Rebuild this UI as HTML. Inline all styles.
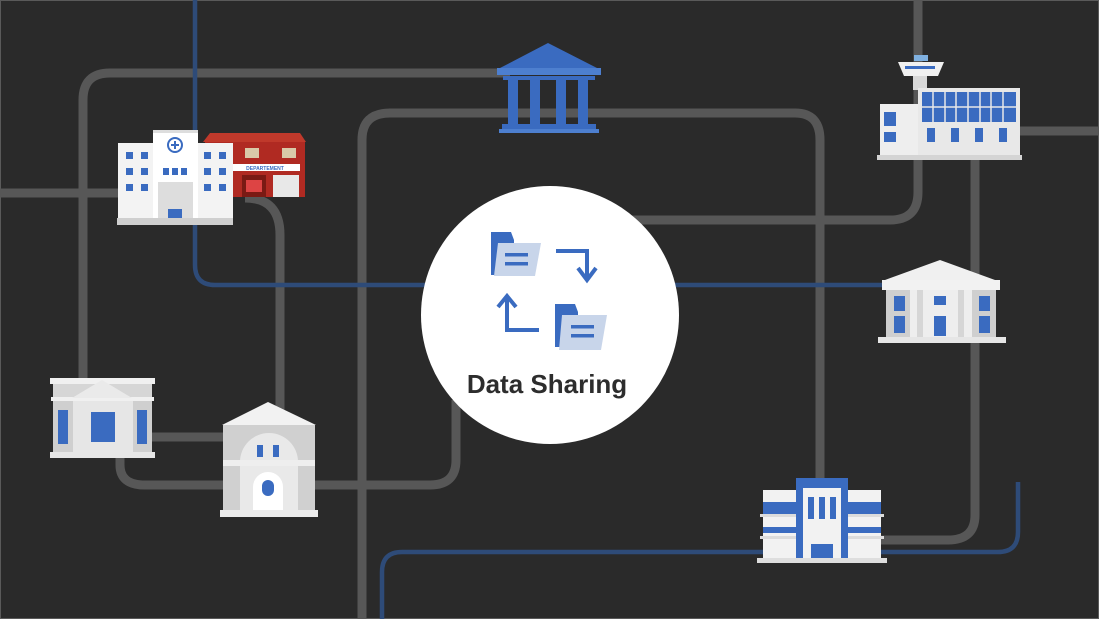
<!DOCTYPE html>
<html><head><meta charset="utf-8"><style>
html,body{margin:0;padding:0;background:#2a2a2a;}
svg{display:block;}
</style></head><body>
<svg width="1099" height="619" viewBox="0 0 1099 619" xmlns="http://www.w3.org/2000/svg">
<rect x="0" y="0" width="1099" height="619" fill="#2a2a2a"/>
<rect x="0.5" y="0.5" width="1098" height="618" fill="none" stroke="#5a5a5a" stroke-width="1"/>
<g fill="none" stroke="#575757" stroke-width="9">
<path d="M83 380 V100 Q83 73 110 73 H510"/>
<path d="M0 193 H125"/>
<path d="M245 198 Q280 198 280 235 V420"/>
<path d="M150 437 H230"/>
<path d="M120 455 V465 Q120 485 145 485 H230"/>
<path d="M310 485 H430 Q456 485 456 460 V400"/>
<path d="M362 619 V140 Q362 113 390 113 H795 Q820 113 820 140 V495"/>
<path d="M630 220 H890 Q918 220 918 192 V0"/>
<path d="M975 158 V515 Q975 540 948 540 H880"/>
<path d="M1015 131 H1099"/>
</g>
<g fill="none" stroke="#2e4b78" stroke-width="4.5">
<path d="M195 0 V265 Q195 285 215 285 H440"/>
<path d="M670 285 H885"/>
<path d="M382 619 V572 Q382 552 402 552 H998 Q1018 552 1018 532 V482"/>
</g>
<!-- center circle -->
<circle cx="550" cy="315" r="129" fill="#ffffff"/>
<!-- folder 1 -->
<path d="M491 232 H511 L514 240 V275 H491 Z" fill="#3a6bc0"/>
<path d="M498 243 H541 L535 276 H494 Z" fill="#c8d5ea"/>
<rect x="505" y="253" width="23" height="3.5" fill="#3a6bc0"/>
<rect x="505" y="262" width="23" height="3.5" fill="#3a6bc0"/>
<!-- folder 2 -->
<path d="M555 304 H575 L578 312 V347 H555 Z" fill="#3a6bc0"/>
<path d="M562 315 H607 L601 350 H559 Z" fill="#c8d5ea"/>
<rect x="571" y="325" width="23" height="3.5" fill="#3a6bc0"/>
<rect x="571" y="334" width="23" height="3.5" fill="#3a6bc0"/>
<!-- arrows -->
<path d="M556 251 H587 V278" fill="none" stroke="#3a6bc0" stroke-width="4"/>
<path d="M578 268 L587 280 L596 268" fill="none" stroke="#3a6bc0" stroke-width="4"/>
<path d="M539 330 H507 V297" fill="none" stroke="#3a6bc0" stroke-width="4"/>
<path d="M498 307 L507 296 L516 307" fill="none" stroke="#3a6bc0" stroke-width="4"/>
<text x="547" y="393" text-anchor="middle" font-family="Liberation Sans, sans-serif" font-weight="bold" font-size="26" fill="#2d2d2d">Data Sharing</text>

<!-- blue temple -->
<g fill="#3a6bc0">
<polygon points="548,43 500,68 597,68"/>
<rect x="497" y="68" width="104" height="7" fill="#4d7fcf"/>
<rect x="503" y="76" width="92" height="4"/>
<rect x="508" y="80" width="10" height="45"/><rect x="530" y="80" width="10" height="45"/>
<rect x="556" y="80" width="10" height="45"/><rect x="578" y="80" width="10" height="45"/>
<rect x="502" y="124" width="94" height="5"/>
<rect x="499" y="129" width="100" height="4" fill="#4d7fcf"/>
</g>

<!-- fire station -->
<g>
<polygon points="210,133 300,133 306,142 203,142" fill="#c0392b"/>
<rect x="205" y="142" width="100" height="55" fill="#b02a22"/>
<rect x="214" y="148" width="14" height="10" fill="#d9c9a8"/><rect x="245" y="148" width="14" height="10" fill="#d9c9a8"/><rect x="282" y="148" width="14" height="10" fill="#d9c9a8"/>
<rect x="230" y="164" width="70" height="7" fill="#fff"/>
<text x="265" y="170" text-anchor="middle" font-family="Liberation Sans, sans-serif" font-size="5" font-weight="bold" fill="#3a6bc0">DEPARTEMENT</text>
<rect x="242" y="175" width="24" height="22" fill="#7a1a14"/>
<rect x="246" y="180" width="16" height="12" fill="#d44"/>
<rect x="273" y="175" width="26" height="22" fill="#e8e8e8"/>
</g>
<!-- hospital -->
<g>
<rect x="118" y="143" width="115" height="78" fill="#f3f3f3"/>
<rect x="153" y="130" width="45" height="91" fill="#fff"/>
<rect x="153" y="130" width="45" height="3" fill="#ddd"/>
<circle cx="175" cy="145" r="7" fill="none" stroke="#3a6bc0" stroke-width="2"/>
<path d="M175 141 V149 M171 145 H179" stroke="#3a6bc0" stroke-width="2"/>
<rect x="158" y="182" width="35" height="39" fill="#ddd"/>
<rect x="168" y="209" width="14" height="12" fill="#3a6bc0"/>
<g fill="#3a6bc0">
<rect x="126" y="152" width="7" height="7"/><rect x="141" y="152" width="7" height="7"/>
<rect x="126" y="168" width="7" height="7"/><rect x="141" y="168" width="7" height="7"/>
<rect x="126" y="184" width="7" height="7"/><rect x="141" y="184" width="7" height="7"/>
<rect x="204" y="152" width="7" height="7"/><rect x="219" y="152" width="7" height="7"/>
<rect x="204" y="168" width="7" height="7"/><rect x="219" y="168" width="7" height="7"/>
<rect x="204" y="184" width="7" height="7"/><rect x="219" y="184" width="7" height="7"/>
<rect x="163" y="168" width="6" height="7"/><rect x="172" y="168" width="6" height="7"/><rect x="181" y="168" width="6" height="7"/>
</g>
<rect x="117" y="218" width="116" height="7" fill="#cfcfcf"/>
</g>

<!-- left building -->
<g>
<rect x="50" y="378" width="105" height="6" fill="#f0f0f0"/>
<rect x="53" y="384" width="99" height="14" fill="#d6d6d6"/>
<rect x="51" y="397" width="103" height="4" fill="#f0f0f0"/>
<polygon points="102,380 72,398 132,398" fill="#eaeaea"/>
<rect x="53" y="401" width="99" height="52" fill="#cfcfcf"/>
<rect x="73" y="401" width="60" height="52" fill="#e6e6e6"/>
<rect x="58" y="410" width="10" height="34" fill="#3a6bc0"/>
<rect x="137" y="410" width="10" height="34" fill="#3a6bc0"/>
<rect x="91" y="412" width="24" height="30" fill="#3a6bc0"/>
<rect x="50" y="452" width="105" height="6" fill="#e6e6e6"/>
</g>

<!-- museum -->
<g>
<polygon points="268,402 222,425 316,425" fill="#f2f2f2"/>
<rect x="223" y="425" width="92" height="85" fill="#d0d0d0"/>
<path d="M240 510 V462 A29 29 0 0 1 298 462 V510" fill="#e9e9e9"/>
<rect x="257" y="445" width="6" height="12" fill="#3a6bc0"/><rect x="273" y="445" width="6" height="12" fill="#3a6bc0"/>
<rect x="223" y="460" width="92" height="6" fill="#eeeeee"/>
<path d="M253 510 V487 A15 15 0 0 1 283 487 V510" fill="#fff"/>
<rect x="262" y="480" width="12" height="16" rx="6" fill="#3a6bc0"/>
<rect x="220" y="510" width="98" height="7" fill="#ececec"/>
</g>

<!-- tower / airport -->
<g>
<rect x="914" y="55" width="14" height="6" fill="#7fb0e0"/>
<polygon points="898,62 944,62 938,76 904,76" fill="#f0f0f0"/>
<rect x="905" y="66" width="30" height="3" fill="#3a6bc0"/>
<rect x="913" y="76" width="14" height="14" fill="#d8d8d8"/>
<rect x="880" y="104" width="40" height="52" fill="#eeeeee"/>
<rect x="918" y="88" width="102" height="68" fill="#e8e8e8"/>
<rect x="922" y="92" width="94" height="30" fill="#3a6bc0"/>
<g stroke="#e8e8e8" stroke-width="1.5">
<path d="M922 107 H1016 M933 92 V122 M945 92 V122 M956 92 V122 M968 92 V122 M980 92 V122 M991 92 V122 M1003 92 V122"/>
</g>
<g fill="#3a6bc0">
<rect x="884" y="112" width="12" height="14"/><rect x="884" y="132" width="12" height="10"/>
<rect x="927" y="128" width="8" height="14"/><rect x="951" y="128" width="8" height="14"/><rect x="975" y="128" width="8" height="14"/><rect x="999" y="128" width="8" height="14"/>
</g>
<rect x="877" y="155" width="145" height="5" fill="#d4d4d4"/>
</g>

<!-- right courthouse -->
<g>
<polygon points="940,260 885,280 995,280" fill="#f0f0f0"/>
<rect x="882" y="280" width="118" height="10" fill="#f2f2f2"/>
<rect x="886" y="290" width="110" height="48" fill="#cfcfcf"/>
<rect x="910" y="290" width="62" height="48" fill="#eeeeee"/>
<rect x="917" y="290" width="6" height="48" fill="#d6d6d6"/><rect x="958" y="290" width="6" height="48" fill="#d6d6d6"/>
<g fill="#3a6bc0">
<rect x="894" y="296" width="11" height="15"/><rect x="894" y="316" width="11" height="17"/>
<rect x="979" y="296" width="11" height="15"/><rect x="979" y="316" width="11" height="17"/>
<rect x="934" y="296" width="12" height="9"/><rect x="934" y="316" width="12" height="20"/>
</g>
<rect x="878" y="337" width="128" height="6" fill="#e6e6e6"/>
</g>

<!-- bottom building -->
<g>
<rect x="763" y="490" width="118" height="70" fill="#f2f2f2"/>
<rect x="763" y="502" width="118" height="12" fill="#3a6bc0"/>
<rect x="763" y="527" width="118" height="6" fill="#3a6bc0"/>
<rect x="760" y="514" width="124" height="3" fill="#dcdcdc"/>
<rect x="760" y="536" width="124" height="3" fill="#dcdcdc"/>
<rect x="796" y="478" width="52" height="82" fill="#3a6bc0"/>
<rect x="803" y="488" width="38" height="72" fill="#f2f2f2"/>
<rect x="808" y="497" width="6" height="22" fill="#3a6bc0"/><rect x="819" y="497" width="6" height="22" fill="#3a6bc0"/><rect x="830" y="497" width="6" height="22" fill="#3a6bc0"/>
<rect x="811" y="544" width="22" height="14" fill="#3a6bc0"/>
<rect x="757" y="558" width="130" height="5" fill="#dedede"/>
</g>
</svg>
</body></html>
